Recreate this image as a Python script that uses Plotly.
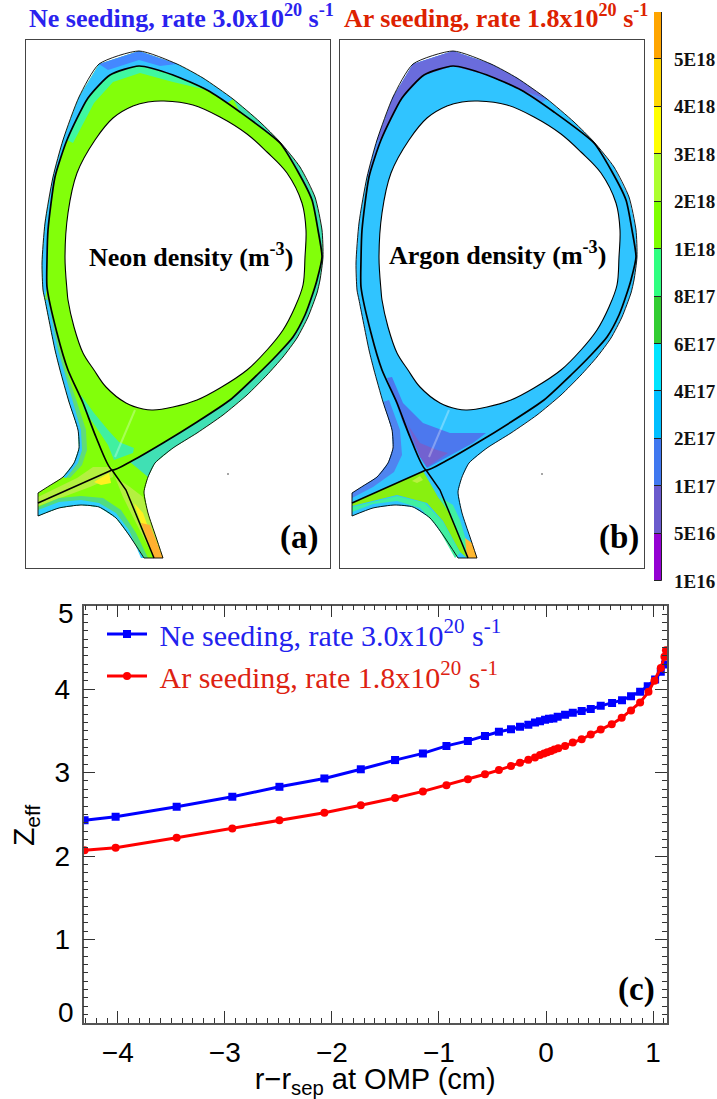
import plotly.graph_objects as go

W, H = 717, 1099

# ---- panel (c) data
ne_r = [-4.31,-4.02,-3.45,-2.93,-2.49,-2.07,-1.73,-1.41,-1.15,-0.93,-0.73,-0.57,-0.44,-0.327,-0.243,-0.165,-0.103,-0.056,-0.009,0.028,0.069,0.109,0.178,0.25,0.333,0.418,0.511,0.617,0.71,0.794,0.879,0.95,1.019,1.072,1.112]
ne_z = [2.43,2.47,2.59,2.71,2.83,2.93,3.04,3.15,3.23,3.32,3.38,3.44,3.49,3.52,3.549,3.573,3.60,3.617,3.632,3.644,3.649,3.668,3.692,3.716,3.737,3.763,3.80,3.835,3.868,3.916,3.97,4.036,4.117,4.21,4.295]
ar_r = [-4.31,-4.02,-3.45,-2.93,-2.49,-2.07,-1.73,-1.41,-1.15,-0.93,-0.73,-0.57,-0.44,-0.327,-0.243,-0.165,-0.103,-0.056,-0.019,0.012,0.047,0.078,0.115,0.178,0.25,0.333,0.418,0.511,0.614,0.707,0.794,0.879,0.957,1.013,1.072,1.106,1.12]
ar_z = [2.07,2.10,2.22,2.33,2.43,2.52,2.61,2.695,2.775,2.85,2.92,2.98,3.03,3.08,3.117,3.153,3.18,3.21,3.23,3.245,3.26,3.278,3.293,3.32,3.36,3.40,3.457,3.517,3.58,3.657,3.745,3.84,3.968,4.10,4.255,4.387,4.467]

# ---- colour bar
bar_labels = ["1E16","5E16","1E17","2E17","4E17","6E17","8E17","1E18","2E18","3E18","4E18","5E18"]
bar_colors = ["#9400D3","#6A5ACD","#4078F0","#00BFFF","#00E5FF","#32CD32","#2FFF80","#7FFF00","#ADFF2F","#FFFF00","#FFD700","#FFA500"]

# ---- machine geometry (both poloidal maps share it)
outer_x = [38,49,63,74,79,78,69,60,55,45,43,42,45,53,63,79,99,139,177,203,233,260,280,300,315,322,323,320,317,308,297,283,267,247,223,197,173,155,148,144,148,156,163,144,129,116,99,81,59,38,38]
outer_y = [493,486,477,463,448,430,402,370,350,300,290,263,223,177,140,97,64,51,64,78,99,122,142,167,197,230,257,280,293,317,338,357,375,395,415,433,448,463,477,492,513,537,558,558,535,518,507,505,508,516,493]
core_x = [148,164,193,220,247,267,287,302,306,305,303,295,283,267,247,220,197,173,153,143,126,106,94,83,74,68,67,65,68,77,95,113,133,148]
core_y = [102,101,105,117,134,152,173,203,230,257,285,307,330,350,370,388,400,407,410,409,403,387,370,353,327,300,290,257,213,173,140,118,106,102]
sep_x = [112,96,83,68,57,47,47,48,55,67,88,110,139,173,207,240,280,297,312,318,322,317,313,305,293,277,257,230,197,163,130,112]
sep_y = [470,437,403,370,333,287,260,230,177,140,98,75,66,75,90,112,143,170,200,230,257,280,293,315,337,355,375,400,422,443,462,470]
leg_left_x = [38,112]
leg_left_y = [503,470]
leg_right_x = [112,126,154]
leg_right_y = [470,490,558]
stripe_x = [135,115]
stripe_y = [410,457]
speck_x = [228]
speck_y = [474]

# ---- Ne map colour regions
sol_right_x = [233,260,280,300,315,322,323,320,317,308,297,283,267,247,223,197,173,155,148,130,163,197,230,257,277,293,305,313,317,322,318,312,297,280,240]
sol_right_y = [99,122,142,167,197,230,257,280,293,317,338,357,375,395,415,433,448,463,477,462,443,422,400,375,355,337,315,293,280,257,230,200,170,143,112]
a_upper_x = [45,43,42,45,53,63,79,99,139,177,203,233,227,207,173,139,110,88,67,55,48,47,47]
a_upper_y = [300,290,263,223,177,140,97,64,51,64,78,99,103,90,75,66,75,98,140,177,230,260,287]
a_peak_x = [99,139,177,160,139,108]
a_peak_y = [64,51,64,66,60,70]
a_inner_x = [67,88,110,139,173,207,173,140,113,94,73]
a_inner_y = [140,98,75,66,75,90,82,73,82,103,143]
a_teal_x = [45,55,60,69,78,79,74,63,70,82,87,86,77,66,59,48]
a_teal_y = [300,350,370,402,430,448,463,477,478,465,450,430,402,370,345,295]
a_cyan_x = [45,55,60,69,78,79,74,63,66,78,82,81,73,64,58,48]
a_cyan_y = [300,350,370,402,430,448,463,477,478,463,450,430,402,370,350,300]
a_xpt_x = [81,94,108,119,134,133,114,108,96,84]
a_xpt_y = [395,413,430,442,448,453,460,445,427,410]
a_gy1_x = [38,77,93,112,113,90,63,38]
a_gy1_y = [497,478,467,467,477,487,497,506]
a_gy2_x = [115,130,143,148,163,154,133,123]
a_gy2_y = [477,487,497,513,558,558,517,497]
a_y1_x = [94,109,111,101]
a_y1_y = [482,473,483,485]
a_y2_x = [134,143,148,141]
a_y2_y = [503,513,527,523]
a_or_x = [141,150,163,154]
a_or_y = [523,525,558,558]
a_rimg_x = [38,59,81,99,116,129,144,148,136,121,103,81,59,38]
a_rimg_y = [516,508,505,507,518,535,558,558,533,510,498,496,498,507]
a_rimb_x = [38,59,81,99,116,129,144,141,129,116,99,81,59,38]
a_rimb_y = [516,508,505,507,518,535,558,558,530,513,503,500,502,510]

# ---- Ar map colour regions
b_upper_x = [53,63,79,99,139,177,203,233,227,207,173,139,110,88,67,55]
b_upper_y = [177,140,97,64,51,64,78,99,103,90,75,66,75,98,140,177]
b_top_x = [63,79,99,139,177,203,233,207,173,139,110,88,67]
b_top_y = [140,97,64,51,64,78,99,90,75,66,75,98,140]
b_left_x = [69,78,79,74,63,49,38,38,59,80,88,86,75]
b_left_y = [402,430,448,463,477,486,493,498,487,472,455,430,400]
b_core_x = [73,78,89,109,136,172,159,113,106,89]
b_core_y = [378,377,403,423,433,433,443,468,457,423]
b_purple_x = [94,106,123,134,113,106]
b_purple_y = [425,443,450,453,467,457]
b_green_x = [38,109,116,124,136,149,153,146,129,113,83,38]
b_green_y = [503,471,483,497,513,547,558,552,521,503,495,506]
b_gy_x = [98,106,109,103]
b_gy_y = [481,476,480,483]
b_spring_x = [38,83,111,129,146,141,123,106,83,59,38]
b_spring_y = [507,496,503,522,553,558,526,508,501,504,512]
b_legr_x = [115,126,139,146,154,161,154,139,123]
b_legr_y = [480,497,505,520,547,558,558,520,493]
b_tip_x = [151,158,163,153]
b_tip_y = [538,543,558,558]

a_layers = [
    (sol_right_x, sol_right_y, "#40E0B4"),
    (a_upper_x, a_upper_y, "#33C4FF"),
    (a_peak_x, a_peak_y, "#4488FF"),
    (a_inner_x, a_inner_y, "#40F8A0"),
    (a_teal_x, a_teal_y, "#60DC78"),
    (a_cyan_x, a_cyan_y, "#33C4FF"),
    (a_xpt_x, a_xpt_y, "#40F0A0"),
    (a_gy1_x, a_gy1_y, "#B4F040"),
    (a_y1_x, a_y1_y, "#FFF020"),
    (a_gy2_x, a_gy2_y, "#B4F040"),
    (a_y2_x, a_y2_y, "#FFF020"),
    (a_or_x, a_or_y, "#FFB030"),
    (a_rimg_x, a_rimg_y, "#50DC80"),
    (a_rimb_x, a_rimb_y, "#30D0FF"),
]
b_layers = [
    (b_upper_x, b_upper_y, "#4F90F8"),
    (b_top_x, b_top_y, "#6A6CDC"),
    (b_left_x, b_left_y, "#4F84F0"),
    (b_core_x, b_core_y, "#4C78EE"),
    (b_purple_x, b_purple_y, "#7262D0"),
    (b_spring_x, b_spring_y, "#40F0A0"),
    (b_green_x, b_green_y, "#88F010"),
    (b_gy_x, b_gy_y, "#B8F040"),
    (b_legr_x, b_legr_y, "#40F0A0"),
    (b_tip_x, b_tip_y, "#FFB830"),
]


def hx(a, b):
    return [a / W, b / W]


def vy(top, bottom):
    return [1 - bottom / H, 1 - top / H]


fig = go.Figure()


def poly(xs, ys, color, xa, ya, shape="linear", line=None, lw=0):
    fig.add_trace(go.Scatter(
        x=xs, y=ys, xaxis=xa, yaxis=ya, mode="lines", fill="toself", fillcolor=color,
        line=dict(color=line or color, width=lw, shape=shape), showlegend=False, hoverinfo="skip"))


def path(xs, ys, xa, ya, width, color="#000000", shape="linear"):
    fig.add_trace(go.Scatter(
        x=xs, y=ys, xaxis=xa, yaxis=ya, mode="lines",
        line=dict(color=color, width=width, shape=shape, smoothing=0.6), showlegend=False, hoverinfo="skip"))


for xa, ya, base, layers in [("x", "y", "#82FF0A", a_layers), ("x2", "y2", "#30C4FF", b_layers)]:
    poly(outer_x, outer_y, base, xa, ya)
    for xs, ys, c in layers:
        poly(xs, ys, c, xa, ya)
    path(stripe_x, stripe_y, xa, ya, 2, "rgba(255,255,255,0.3)")
    poly(core_x, core_y, "#FFFFFF", xa, ya, shape="spline", line="#000000", lw=1.1)
    # outer wall: curved runs are smoothed, the square leg ends stay straight
    path(outer_x[:43], outer_y[:43], xa, ya, 0.9, shape="spline")
    path(outer_x[42:44], outer_y[42:44], xa, ya, 0.9)
    path(outer_x[43:50], outer_y[43:50], xa, ya, 0.9, shape="spline")
    path(outer_x[49:51], outer_y[49:51], xa, ya, 0.9)
    path(sep_x, sep_y, xa, ya, 1.7, shape="spline")
    path(leg_left_x, leg_left_y, xa, ya, 1.5)
    path(leg_right_x, leg_right_y, xa, ya, 1.5)
    fig.add_trace(go.Scatter(x=speck_x, y=speck_y, xaxis=xa, yaxis=ya, mode="markers",
                             marker=dict(size=2, color="#888888", line=dict(width=0)),
                             showlegend=False, hoverinfo="skip"))

# panel (c)
fig.add_trace(go.Scatter(
    x=ne_r, y=ne_z, xaxis="x3", yaxis="y3", mode="lines+markers",
    name='\u00a0<span style="color:#2222EE">Ne seeding, rate 3.0x10<sup>20</sup> s<sup>-1</sup></span>',
    line=dict(color="#0000FF", width=3), marker=dict(symbol="square", size=8, color="#0000FF")))
fig.add_trace(go.Scatter(
    x=ar_r, y=ar_z, xaxis="x3", yaxis="y3", mode="lines+markers",
    name='\u00a0<span style="color:#DD2211">Ar seeding, rate 1.8x10<sup>20</sup> s<sup>-1</sup></span>',
    line=dict(color="#FF0000", width=3), marker=dict(symbol="circle", size=8, color="#FF0000")))

# colour bar
fig.add_trace(go.Bar(
    x=[0] * len(bar_colors), y=[1] * len(bar_colors), base=list(range(len(bar_colors))),
    width=1, xaxis="x4", yaxis="y4", showlegend=False, hoverinfo="skip",
    marker=dict(color=bar_colors, line=dict(color="#222222", width=1))))

frame = dict(showline=True, mirror=True, linecolor="#444444", linewidth=1.3, ticks="",
             showticklabels=False, showgrid=False, zeroline=False)
frame_y = dict(frame, range=[568, 40])
frame_x = dict(frame, range=[26, 330])

sans = "Liberation Sans"
serif = "Liberation Serif"
tick_common = dict(
    showline=True, linecolor="#555555", linewidth=1.5, mirror="allticks", ticks="inside",
    ticklen=12, tickwidth=1.3, tickcolor="#333333", showgrid=False, zeroline=False,
    tickfont=dict(family=sans, size=28, color="#000000"))

fig.update_layout(
    width=W, height=H, margin=dict(l=0, r=0, t=0, b=0, autoexpand=False), paper_bgcolor="white", plot_bgcolor="white",
    barmode="overlay", bargap=0, showlegend=True,
    font=dict(family=serif, color="#000000"),
    legend=dict(x=102 / W, y=1 - 608 / H, xanchor="left", yanchor="top", bgcolor="rgba(0,0,0,0)",
                font=dict(family=serif, size=30), itemwidth=40, tracegroupgap=0),
    xaxis=dict(frame_x, domain=hx(26, 330), anchor="y"),
    yaxis=dict(frame_y, domain=vy(40, 568), anchor="x"),
    xaxis2=dict(frame_x, domain=hx(340, 644), anchor="y2"),
    yaxis2=dict(frame_y, domain=vy(40, 568), anchor="x2"),
    xaxis3=dict(tick_common, domain=hx(83.5, 667), anchor="y3", range=[-4.32, 1.13],
                tickvals=[-4, -3, -2, -1, 0, 1], ticktext=["\u22124", "\u22123", "\u22122", "\u22121", "0", "1"],
                minor=dict(dtick=0.1, ticks="inside", ticklen=5, tickwidth=1.2, tickcolor="#333333"),
                ticklabelstandoff=4,
                title=dict(text="r\u2212r<sub>sep</sub> at OMP (cm)", font=dict(family=sans, size=29), standoff=14)),
    yaxis3=dict(tick_common, domain=vy(605.7, 1023), anchor="x3", range=[0, 5],
                tickvals=[0, 1, 2, 3, 4, 5], ticktext=["", "1", "2", "3", "4", ""],
                minor=dict(dtick=0.1, ticks="inside", ticklen=5, tickwidth=1.2, tickcolor="#333333"),
                ticklabelstandoff=6),
    xaxis4=dict(domain=hx(654, 662), anchor="y4", range=[-0.5, 0.5], visible=False, fixedrange=True),
    yaxis4=dict(domain=vy(12, 581), anchor="x4", range=[0, 12], side="right", showgrid=False, zeroline=False,
                showline=False, ticks="", tickvals=list(range(len(bar_labels))), ticktext=bar_labels,
                ticklabelstandoff=11, tickfont=dict(family=serif, size=19, color="#111111", weight="bold")),
)


def note(text, px, py, size, color="#000000", family=serif, bold=True, angle=0):
    fig.add_annotation(
        text=text, x=px / W, y=1 - py / H, xref="paper", yref="paper", showarrow=False,
        xanchor="center", yanchor="middle", textangle=angle,
        font=dict(family=family, size=size, color=color, weight="bold" if bold else "normal"))


note("Ne seeding, rate 3.0x10<sup>20</sup> s<sup>-1</sup>", 181, 16, 26, "#2A22EE")
note("Ar seeding, rate 1.8x10<sup>20</sup> s<sup>-1</sup>", 496, 16, 26, "#DD2200")
note("Neon density (m<sup>-3</sup>)", 191, 256, 26)
note("Argon density (m<sup>-3</sup>)", 497, 253, 26)
note("(a)", 299, 537, 33)
note("(b)", 619, 537, 33)
note("(c)", 636, 989, 33)
note("5", 66, 613, 28, family=sans, bold=False)
note("0", 66, 1012, 28, family=sans, bold=False)
note("Z<sub>eff</sub>", 25, 826, 30, family=sans, bold=False, angle=-90)

fig.write_html("out.html", config=dict(displayModeBar=False),
               post_script="document.body.style.margin='0';document.body.style.overflow='hidden';")
